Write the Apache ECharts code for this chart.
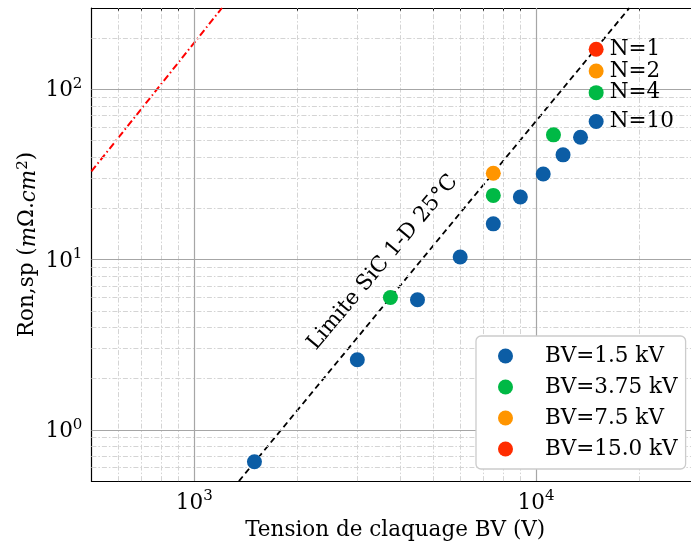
<!DOCTYPE html>
<html>
<head>
<meta charset="utf-8">
<script src="https://cdn.jsdelivr.net/npm/echarts@6/dist/echarts.min.js"></script>
<style>
html,body{margin:0;padding:0;background:#fff;}
#chart{width:691px;height:546px;}
</style>
</head>
<body>
<div id="chart"></div>
<script>
// ---- data ----
var seriesNames = ['BV=1.5 kV', 'BV=3.75 kV', 'BV=7.5 kV', 'BV=15.0 kV'];
var bv15 = [[1500, 0.65], [3000, 2.58], [4500, 5.81], [6000, 10.34], [7500, 16.2], [9000, 23.3], [10500, 31.8], [12000, 41.2], [13500, 52.3], [15000, 64.6]];
var bv375 = [[3750, 5.99], [7500, 23.8], [11250, 54], [15000, 95.5]];
var bv75 = [[7500, 32.1], [15000, 128]];
var bv150 = [[15000, 171.7]];
var nLabels = ['N=10', 'N=4', 'N=2', 'N=1'];
var sicLimit = [[1351, 0.5], [18760, 300]];
var siLimit = [[500, 32.9], [1205, 300]];
var sicText = 'Limite SiC 1-D 25°C';
var sicTextAt = [3560, 9.6];
var xMajor = [1000, 10000];
var xMinor = [600, 700, 800, 900, 2000, 3000, 4000, 5000, 6000, 7000, 8000, 9000, 20000];
var yMajor = [1, 10, 100];
var yMinor = [0.6, 0.7, 0.8, 0.9, 2, 3, 4, 5, 6, 7, 8, 9, 20, 30, 40, 50, 60, 70, 80, 90, 200];
var xTitle = 'Tension de claquage BV (V)';

// ---- style ----
var colors = ['#0C5DA5', '#00B945', '#FF9500', '#FF2C00'];
var serif = 'DejaVu Serif';
var FS = 21.5;
var xMin = 500, xMax = 28420, yMin = 0.5, yMax = 300;

function powLabel(v) {
  return '{b|10}{e|' + Math.round(Math.log10(v)) + '}';
}
var labelRich = {
  b: { fontSize: FS, fontFamily: serif, color: '#000', verticalAlign: 'bottom' },
  e: { fontSize: 15, fontFamily: serif, color: '#000', verticalAlign: 'bottom', padding: [0, 0, 10, 0] }
};

function xAx(pos, ticks, len, showLine, showLabel) {
  return {
    type: 'log', logBase: 10, min: xMin, max: xMax, position: pos,
    axisLine: { show: showLine, onZero: false, lineStyle: { color: '#000', width: 1.2 } },
    axisTick: { show: true, inside: true, length: len, customValues: ticks, lineStyle: { color: '#000', width: 1 } },
    axisLabel: showLabel ? { show: true, customValues: ticks, formatter: powLabel, rich: labelRich, margin: 8 } : { show: false },
    splitLine: { show: false }, minorTick: { show: false }
  };
}
function yAx(pos, ticks, len, showLine, showLabel) {
  return {
    type: 'log', logBase: 10, min: yMin, max: yMax, position: pos,
    axisLine: { show: showLine, onZero: false, lineStyle: { color: '#000', width: 1.2 } },
    axisTick: { show: true, inside: true, length: len, customValues: ticks, lineStyle: { color: '#000', width: 1 } },
    axisLabel: showLabel ? { show: true, customValues: ticks, formatter: powLabel, rich: labelRich, margin: 9 } : { show: false },
    splitLine: { show: false }, minorTick: { show: false }
  };
}

var xAxes = [
  xAx('bottom', xMajor, 6, true, true),
  xAx('bottom', xMinor, 3.5, false, false),
  xAx('top', xMajor, 6, true, false),
  xAx('top', xMinor, 3.5, false, false)
];
xAxes[0].name = xTitle;
xAxes[0].nameLocation = 'middle';
xAxes[0].nameGap = 36;
xAxes[0].nameTextStyle = { fontSize: FS, fontFamily: serif, color: '#000', padding: [0, 0, 0, 8] };

var yAxes = [
  yAx('left', yMajor, 6, true, true),
  yAx('left', yMinor, 3.5, false, false)
];
yAxes[0].name = 'Ron,sp ({i|m}Ω.{i|cm}{s|2})';
yAxes[0].nameLocation = 'middle';
yAxes[0].nameRotate = 90;
yAxes[0].nameGap = 51;
yAxes[0].nameMoveOverlap = false;
yAxes[0].nameTextStyle = {
  fontSize: FS, fontFamily: serif, color: '#000',
  rich: {
    i: { fontSize: FS, fontFamily: serif, fontStyle: 'italic', color: '#000', verticalAlign: 'bottom' },
    s: { fontSize: 15, fontFamily: serif, color: '#000', verticalAlign: 'bottom', padding: [0, 0, 10, 0] }
  }
};

var minorLine = { color: '#d4d4d4', width: 1, type: [5, 2, 1.5, 2] };
var majorLine = { color: '#a6a6a6', width: 1.2, type: 'solid' };
function vl(arr) { return arr.map(function (v) { return { xAxis: v }; }); }
function hl(arr) { return arr.map(function (v) { return { yAxis: v }; }); }

function scatterSeries(name, data, color, label) {
  var d = data.map(function (p, i) {
    if (label && i === data.length - 1) {
      return { value: p, label: { show: true, formatter: label, position: 'right', distance: 6,
        fontSize: FS, fontFamily: serif, color: '#000' } };
    }
    return p;
  });
  return {
    name: name, type: 'scatter', data: d, symbol: 'circle', symbolSize: 15,
    itemStyle: { color: color, opacity: 1 }, z: 5
  };
}

var option = {
  animation: false,
  backgroundColor: '#fff',
  grid: { left: 91.4, top: 8, right: 0, bottom: 64.4, containLabel: false },
  xAxis: xAxes,
  yAxis: yAxes,
  legend: {
    orient: 'vertical', left: 476, top: 336, z: 10,
    data: seriesNames.map(function (n) { return { name: n, icon: 'circle' }; }),
    itemWidth: 15, itemHeight: 15, itemGap: 9,
    padding: [9, 8, 9, 22],
    backgroundColor: '#ffffff', borderColor: '#cccccc', borderWidth: 1.3, borderRadius: 5,
    textStyle: { fontSize: FS, fontFamily: serif, color: '#000', padding: [0, 0, 0, 27] }
  },
  series: [
    {
      name: 'grid', type: 'line', data: [], silent: true, z: 1,
      markLine: {
        silent: true, symbol: ['none', 'none'], label: { show: false }, animation: false,
        lineStyle: minorLine,
        data: vl(xMinor).concat(hl(yMinor))
      }
    },
    {
      name: 'gridMajor', type: 'line', data: [], silent: true, z: 1,
      markLine: {
        silent: true, symbol: ['none', 'none'], label: { show: false }, animation: false,
        lineStyle: majorLine,
        data: vl(xMajor).concat(hl(yMajor))
      }
    },
    {
      name: 'Si', type: 'line', data: siLimit, symbol: 'none', z: 3,
      lineStyle: { color: '#ff0000', width: 2, type: [7, 3, 1.5, 3] }
    },
    {
      name: 'SiC', type: 'line', data: sicLimit, symbol: 'none', z: 3,
      lineStyle: { color: '#000', width: 1.8, type: [6, 4] },
      markPoint: {
        symbol: 'circle', symbolSize: 0, silent: true,
        data: [{ coord: sicTextAt }],
        label: { show: true, position: 'inside', formatter: sicText, rotate: 50,
          fontSize: FS, fontFamily: serif, color: '#000' }
      }
    },
    scatterSeries(seriesNames[0], bv15, colors[0], nLabels[0]),
    scatterSeries(seriesNames[1], bv375, colors[1], nLabels[1]),
    scatterSeries(seriesNames[2], bv75, colors[2], nLabels[2]),
    scatterSeries(seriesNames[3], bv150, colors[3], nLabels[3])
  ]
};

var chart = echarts.init(document.getElementById('chart'), null, { renderer: 'canvas' });
chart.setOption(option);
</script>
</body>
</html>
